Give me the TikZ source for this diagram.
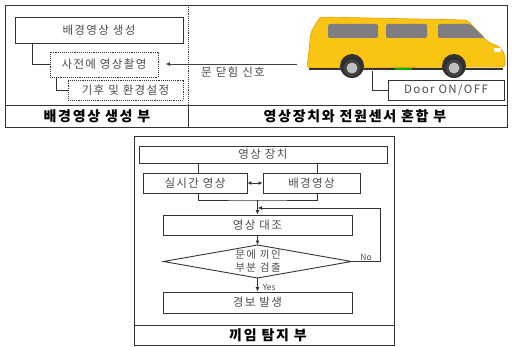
\documentclass[tikz,border=0pt]{standalone}
\usepackage{fontspec}
\setmainfont{Noto Sans CJK KR}
\usetikzlibrary{arrows.meta}

\definecolor{vanyellow}{RGB}{250,196,20}
\definecolor{vanedge}{RGB}{225,160,0}
\definecolor{glass}{RGB}{125,125,130}

\begin{document}
\begin{tikzpicture}[x=1pt,y=-1pt, line width=0.9pt,
    every node/.style={font=\fontsize{11.5}{14}\selectfont\addfontfeatures{LetterSpace=12}, text=black!70},
    box/.style={draw=black!80, rectangle, inner sep=0pt},
    dotbox/.style={box, densely dotted},
    label/.style={font=\fontsize{14}{16}\selectfont\bfseries\addfontfeatures{LetterSpace=12}, text=black},
    small/.style={font=\fontsize{8.5}{10}\selectfont},
    arr/.style={-{Latex[length=4.5pt,width=4pt]}},
    wheel/.style={fill=black!75, draw=black!85}]
    \useasboundingbox (0,0) rectangle (513,347);

    % top panel
    \draw[black!80] (5,5) rectangle (507,127);
    \draw[black!80] (5,105) -- (507,105);
    \draw[black!80, densely dotted] (188,5) -- (188,105);
    \draw[black!80] (188,105) -- (188,127);
    \node[label] (lbl1) at (97,116.5) {배경영상 생성 부};
    \node[label] (lbl2) at (355,116.5) {영상장치와 전원센서 혼합 부};

    \node[box, minimum width=168, minimum height=26] (gen) at (99,30) {배경영상 생성};
    \node[dotbox, minimum width=108, minimum height=25] (shot) at (104,64.5) {사전에 영상촬영};
    \node[dotbox, minimum width=115, minimum height=20] (env) at (125.5,90) {기후 및 환경설정};

    \draw[black!80] (gen.south west) ++(18,0) |- (shot.west);
    \draw[black!80] (shot.south west) ++(7,0) |- (env.west);

    \coordinate (sig) at (297,64);
    \draw[arr, black!75] (sig) -- ([xshift=7pt]shot.east |- sig);
    \node (sigtxt) at (233,72) {문 닫힘 신호};

    % van
    \draw[fill=vanyellow, draw=vanedge, line width=0.6pt, rounded corners=3pt]
        (307,68) -- (311,32) -- (320,17) -- (467,20) -- (488,42)
        -- (500,47) -- (505,55) -- (505,67) -- cycle;
    \fill[glass, rounded corners=1.5pt] (328,24) rectangle (378,38);
    \fill[glass, rounded corners=1.5pt] (386,24) rectangle (427,38);
    \fill[glass, rounded corners=1.5pt] (438,24) -- (470,24) -- (485,38) -- (438,38) -- cycle;
    \fill[white!90!yellow] (494,48) rectangle (501,52);
    \draw[black!80, line width=1.6pt] (309,69) -- (503,69);
    \draw[green!70!black, line width=1.6pt] (395,69) -- (412,69);
    \foreach \cx in {352,454} {
        \fill[black!80] (\cx,66) circle (12);
        \draw[wheel] (\cx,68) circle (9.5);
        \fill[black!25] (\cx,68) circle (5.5);
    }

    \node[box, minimum width=116, minimum height=20] (door) at (446,90) {Door ON/OFF};
    \coordinate (sensor) at (372,71);
    \draw[black!80] (sensor) |- (door.west);

    % bottom panel
    \draw[black!80] (134,136) rectangle (394,345);
    \draw[black!80] (134,325) -- (394,325);
    \node[label] (lbl3) at (268,335.5) {끼임 탐지 부};

    \node[box, minimum width=248, minimum height=17] (dev) at (263,154.5) {영상 장치};
    \node[box, minimum width=104, minimum height=20] (live) at (195,183) {실시간 영상};
    \node[box, minimum width=97, minimum height=20] (bg) at (311.5,183) {배경영상};
    \node[box, minimum width=189, minimum height=20] (cmp) at (257.5,225) {영상 대조};

    \coordinate (dt) at (257.5,245);
    \coordinate (db) at (257.5,278);
    \coordinate (dl) at (163.5,261.5);
    \coordinate (dr) at (351.5,261.5);
    \draw[black!80] (dl) -- (dt) -- (dr) -- (db) -- cycle;
    \node[align=center, font=\fontsize{10.5}{13}\selectfont\addfontfeatures{LetterSpace=14}] (dia) at (258,261.5) {문에 끼인\\부분 검출};

    \node[box, minimum width=189, minimum height=21] (alarm) at (257.5,302.5) {경보 발생};

    \draw[black!80] ([xshift=3pt]live.north) -- ([xshift=3pt]live.north |- dev.south);
    \draw[black!80] ([xshift=5.5pt]bg.north) -- ([xshift=5.5pt]bg.north |- dev.south);
    \draw[{Latex[length=4pt,width=4pt]}-{Latex[length=4pt,width=4pt]}, black!80] (live.east) -- (bg.west);

    \coordinate (join) at (257.5,200);
    \draw[black!80] ([xshift=3pt]live.south) |- (join) -| ([xshift=5.5pt]bg.south);
    \draw[arr, black!80] (join) -- (cmp.north);
    \draw[arr, black!80] (cmp.south) -- (dt);

    \coordinate (back) at (380,208);
    \draw[arr, black!80] (dr) -| (back) -- (back -| join);
    \node[small] (no) at (366,257) {No};

    \draw[arr, black!80] (db) -- (alarm.north);
    \node[small, anchor=west] (yes) at (259,287) {Yes};
\end{tikzpicture}
\end{document}
